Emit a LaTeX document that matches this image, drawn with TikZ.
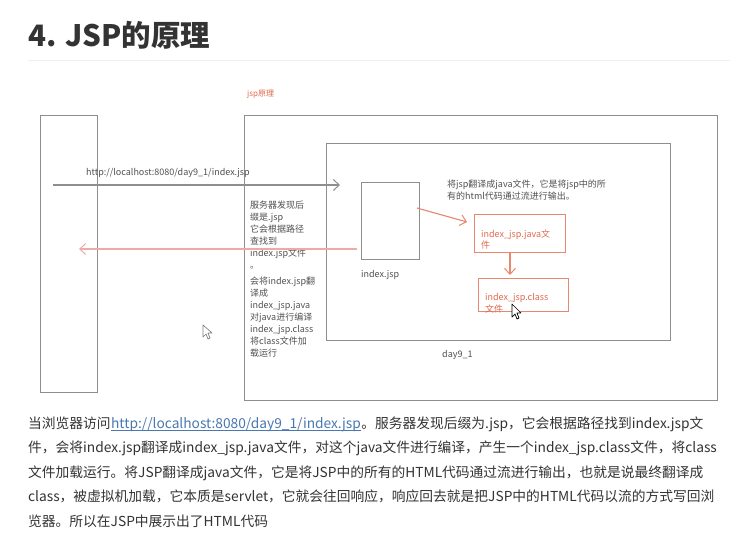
\documentclass[tikz,border=0pt]{standalone}
\usepackage{fontspec}
\setmainfont{Noto Sans CJK SC}
\usetikzlibrary{arrows.meta}
\definecolor{linegray}{HTML}{8E8E8E}
\definecolor{redline}{HTML}{E8866E}
\definecolor{pinkline}{HTML}{EEAAAA}
\definecolor{redtext}{HTML}{E2694C}
\definecolor{txt}{HTML}{333333}
\definecolor{smalltxt}{HTML}{505050}
\definecolor{linkc}{HTML}{4A78B0}
\definecolor{sepc}{HTML}{EEEEEE}
\begin{document}
\begin{tikzpicture}[x=1pt,y=-1pt,
  box/.style={draw=linegray,line width=1.1pt,inner sep=0,anchor=north west},
  rbox/.style={draw=redline,line width=1.1pt,inner sep=0,anchor=north west},
  small/.style={font=\fontsize{9}{11}\selectfont,text=smalltxt,inner sep=0,anchor=base west},
  rsmall/.style={font=\fontsize{9}{11}\selectfont,text=redtext,inner sep=0,anchor=base west},
  para/.style={font=\fontsize{13.75}{18}\selectfont,text=txt,inner sep=0,anchor=base west},
  barb/.style={-{Straight Barb[length=6pt,width=11pt,line width=1pt]}},
  cursor/.style={line width=0.7pt,fill=white,line join=round}]
\useasboundingbox[fill=white] (0,0) rectangle (745,535);

% title
\node[font=\fontsize{29.5}{34}\selectfont\bfseries,text=txt,inner sep=0,anchor=base west] (title) at (28,47) {4. JSP的原理};
\coordinate (sepL) at (28,60);
\coordinate (sepR) at (730,60);
\draw[sepc,line width=0.8pt] (sepL) -- (sepR);

% diagram
\node[font=\fontsize{8}{10}\selectfont,text=redtext,inner sep=0,anchor=base west] (dtitle) at (247,96) {jsp原理};

\node[box,minimum width=57pt,minimum height=277pt] (browser) at (40,115) {};
\node[box,minimum width=473pt,minimum height=285pt] (server) at (244,115) {};
\node[box,minimum width=344pt,minimum height=197pt] (app) at (326,143) {};
\node[box,minimum width=58pt,minimum height=77pt] (jsp) at (361,182) {};
\node[rbox,minimum width=91pt,minimum height=38pt] (java) at (474,214) {};
\node[rbox,minimum width=90pt,minimum height=33pt] (class) at (478,278) {};

\node[small] (url) at (86,175) {http://localhost:8080/day9\_1/index.jsp};
\node[small] (jsplbl) at (361,277) {index.jsp};
\node[small] (daylbl) at (442,357) {day9\_1};
\node[small] (trans1) at (447,187) {将jsp翻译成java文件，它是将jsp中的所};
\node[small] (trans2) at (447,199) {有的html代码通过流进行输出。};

\node[small] (s1) at (250,208) {服务器发现后};
\node[small] (s2) at (250,220) {缀是.jsp};
\node[small] (s3) at (250,232) {它会根据路径};
\node[small] (s4) at (250,244) {查找到};
\node[small] (s5) at (250,256) {index.jsp文件};
\node[small] (s6) at (250,268) {。};
\node[small] (s7) at (250,284) {会将index.jsp翻};
\node[small] (s8) at (250,296) {译成};
\node[small] (s9) at (250,308) {index\_jsp.java};
\node[small] (s10) at (250,320) {对java进行编译};
\node[small] (s11) at (250,332) {index\_jsp.class};
\node[small] (s12) at (250,344) {将class文件加};
\node[small] (s13) at (250,356) {载运行};

\node[rsmall] (j1) at (481,237) {index\_jsp.java文};
\node[rsmall] (j2) at (481,248) {件};
\node[rsmall] (c1) at (485,300) {index\_jsp.class};
\node[rsmall] (c2) at (485,312) {文件};

% connectors
\coordinate (reqS) at (53,185);
\coordinate (reqE) at (340,185);
\draw[linegray,line width=1.1pt,barb] (reqS) -- (reqE);
\coordinate (resS) at (357,249);
\coordinate (resE) at (79,249);
\draw[pinkline,line width=1.1pt,barb] (resS) -- (resE);
\coordinate (tS) at (417,208);
\coordinate (tE) at (467,222);
\draw[redline,line width=1.1pt,barb] (tS) -- (tE);
\coordinate (cS) at (510,252);
\coordinate (cE) at (510,275);
\draw[redline,line width=1.1pt,barb] (cS) -- (cE);

% mouse cursors
\draw[cursor,draw=gray] (203,325) -- (203,337) -- (206,334) -- (208,339) -- (210,338) -- (208,333) -- (212,333) -- cycle;
\draw[cursor,draw=black] (512,304) -- (512,317) -- (515,314) -- (517,319) -- (519,318) -- (517,313) -- (521,313) -- cycle;

% paragraph
\node[para] (p1a) at (28,428) {当浏览器访问};
\node[para,text=linkc,anchor=base west] (lnk) at (p1a.base east) {http://localhost:8080/day9\_1/index.jsp};
\node[para,anchor=base west] (p1b) at (lnk.base east) {。服务器发现后缀为.jsp，它会根据路径找到index.jsp文};
\draw[linkc,line width=0.6pt] ([yshift=-2pt]lnk.base west) -- ([yshift=-2pt]lnk.base east);
\node[para] (p2) at (28,452.5) {件，会将index.jsp翻译成index\_jsp.java文件，对这个java文件进行编译，产生一个index\_jsp.class文件，将class};
\node[para] (p3) at (28,477) {文件加载运行。将JSP翻译成java文件，它是将JSP中的所有的HTML代码通过流进行输出，也就是说最终翻译成};
\node[para] (p4) at (28,501.5) {class，被虚拟机加载，它本质是servlet，它就会往回响应，响应回去就是把JSP中的HTML代码以流的方式写回浏};
\node[para] (p5) at (28,526) {览器。所以在JSP中展示出了HTML代码};
\end{tikzpicture}
\end{document}
